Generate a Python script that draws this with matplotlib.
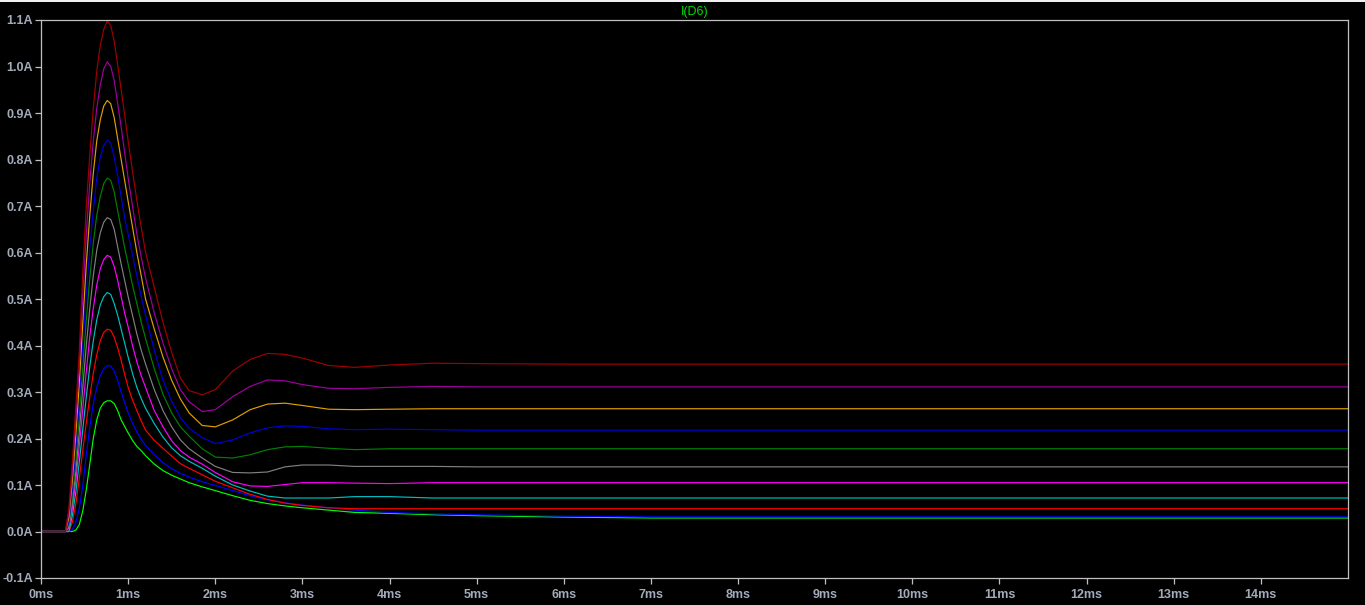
import matplotlib.pyplot as plt
from matplotlib.patches import Rectangle

plt.rcParams['font.family'] = ['Liberation Sans', 'DejaVu Sans']

# time axis in ms (shared by all traces)
time_ms = [0, 0.28, 0.32, 0.36, 0.40, 0.44, 0.48, 0.52, 0.56, 0.60, 0.64, 0.68,
           0.72, 0.76, 0.80, 0.84, 0.88, 0.92, 0.96, 1.00, 1.05, 1.10, 1.15, 1.20,
           1.30, 1.40, 1.50, 1.60, 1.70, 1.85, 2.00, 2.20, 2.40, 2.60, 2.80, 3.00,
           3.30, 3.60, 4.00, 4.50, 5.00, 6.00, 7.00, 15.0]

# I(D6) for each step, in A
i_step1 = [0, 0, 0, 0, 0.003, 0.015, 0.045, 0.090, 0.145, 0.200, 0.240, 0.265,
           0.277, 0.281, 0.281, 0.275, 0.260, 0.240, 0.226, 0.212, 0.196, 0.183, 0.174, 0.163,
           0.145, 0.131, 0.121, 0.113, 0.105, 0.096, 0.088, 0.077, 0.067, 0.060, 0.055, 0.051,
           0.046, 0.041, 0.039, 0.036, 0.034, 0.031, 0.029, 0.029]
i_step2 = [0, 0, 0, 0.004, 0.020, 0.050, 0.100, 0.165, 0.225, 0.275, 0.310, 0.335,
           0.350, 0.357, 0.356, 0.345, 0.325, 0.300, 0.277, 0.255, 0.233, 0.214, 0.198, 0.185,
           0.165, 0.148, 0.135, 0.125, 0.117, 0.107, 0.099, 0.088, 0.077, 0.068, 0.062, 0.057,
           0.051, 0.046, 0.041, 0.038, 0.036, 0.033, 0.0315, 0.0315]
i_step3 = [0, 0, 0, 0.020, 0.060, 0.115, 0.175, 0.235, 0.290, 0.340, 0.380, 0.410,
           0.428, 0.435, 0.433, 0.418, 0.395, 0.368, 0.338, 0.310, 0.283, 0.260, 0.238, 0.218,
           0.196, 0.179, 0.162, 0.146, 0.136, 0.122, 0.108, 0.094, 0.080, 0.069, 0.061, 0.056,
           0.051, 0.049, 0.049, 0.049, 0.049, 0.049, 0.049, 0.049]
i_step4 = [0, 0, 0, 0.035, 0.085, 0.150, 0.220, 0.290, 0.355, 0.410, 0.455, 0.487,
           0.505, 0.514, 0.510, 0.490, 0.465, 0.435, 0.405, 0.375, 0.340, 0.310, 0.286, 0.265,
           0.232, 0.203, 0.180, 0.163, 0.151, 0.136, 0.119, 0.100, 0.087, 0.076, 0.072, 0.072,
           0.072, 0.075, 0.075, 0.072, 0.072, 0.072, 0.072, 0.072]
i_step5 = [0, 0, 0.008, 0.050, 0.110, 0.185, 0.265, 0.345, 0.420, 0.480, 0.530, 0.565,
           0.585, 0.594, 0.590, 0.570, 0.540, 0.505, 0.470, 0.440, 0.400, 0.365, 0.335, 0.310,
           0.260, 0.225, 0.195, 0.174, 0.160, 0.145, 0.127, 0.107, 0.098, 0.097, 0.101, 0.105,
           0.105, 0.104, 0.103, 0.105, 0.105, 0.105, 0.105, 0.105]
i_step6 = [0, 0, 0.010, 0.060, 0.130, 0.215, 0.310, 0.400, 0.480, 0.550, 0.605, 0.642,
           0.665, 0.675, 0.671, 0.650, 0.612, 0.575, 0.540, 0.505, 0.465, 0.425, 0.390, 0.360,
           0.305, 0.260, 0.225, 0.197, 0.178, 0.158, 0.140, 0.127, 0.126, 0.128, 0.139, 0.143,
           0.143, 0.140, 0.140, 0.140, 0.139, 0.139, 0.139, 0.139]
i_step7 = [0, 0, 0.015, 0.075, 0.155, 0.250, 0.355, 0.455, 0.545, 0.620, 0.680, 0.720,
           0.748, 0.760, 0.755, 0.730, 0.690, 0.650, 0.610, 0.575, 0.530, 0.490, 0.450, 0.415,
           0.350, 0.295, 0.255, 0.225, 0.205, 0.178, 0.160, 0.158, 0.165, 0.176, 0.182, 0.183,
           0.179, 0.176, 0.178, 0.178, 0.178, 0.178, 0.178, 0.178]
i_step8 = [0, 0, 0.020, 0.090, 0.180, 0.280, 0.400, 0.510, 0.610, 0.690, 0.760, 0.805,
           0.830, 0.842, 0.835, 0.805, 0.765, 0.720, 0.675, 0.640, 0.595, 0.550, 0.505, 0.465,
           0.390, 0.325, 0.280, 0.245, 0.222, 0.202, 0.189, 0.197, 0.212, 0.223, 0.227, 0.226,
           0.221, 0.219, 0.220, 0.219, 0.218, 0.218, 0.218, 0.218]
i_step9 = [0, 0, 0.030, 0.110, 0.210, 0.320, 0.450, 0.575, 0.680, 0.770, 0.840, 0.885,
           0.915, 0.927, 0.920, 0.890, 0.845, 0.800, 0.755, 0.710, 0.655, 0.600, 0.550, 0.500,
           0.435, 0.375, 0.325, 0.285, 0.255, 0.228, 0.225, 0.240, 0.262, 0.274, 0.276, 0.271,
           0.263, 0.262, 0.263, 0.264, 0.264, 0.264, 0.264, 0.264]
i_step10 = [0, 0, 0.040, 0.130, 0.240, 0.360, 0.510, 0.640, 0.750, 0.840, 0.910, 0.960,
            0.995, 1.010, 1.000, 0.970, 0.920, 0.870, 0.815, 0.760, 0.700, 0.640, 0.590, 0.545,
            0.470, 0.405, 0.350, 0.305, 0.279, 0.258, 0.262, 0.290, 0.312, 0.326, 0.324, 0.316,
            0.308, 0.307, 0.310, 0.312, 0.311, 0.311, 0.311, 0.311]
i_step11 = [0, 0, 0.050, 0.150, 0.270, 0.390, 0.560, 0.700, 0.810, 0.910, 0.990, 1.045,
            1.080, 1.098, 1.088, 1.055, 1.003, 0.950, 0.896, 0.840, 0.775, 0.712, 0.655, 0.600,
            0.525, 0.450, 0.385, 0.330, 0.303, 0.294, 0.305, 0.345, 0.370, 0.383, 0.381, 0.373,
            0.357, 0.353, 0.358, 0.362, 0.361, 0.360, 0.360, 0.360]

steps = [i_step1, i_step2, i_step3, i_step4, i_step5, i_step6,
         i_step7, i_step8, i_step9, i_step10, i_step11]
colors = ['#00ff00', '#0000ff', '#ff0000', '#00bfbf', '#ff00ff', '#808080',
          '#008000', '#0000d8', '#dfa000', '#a000a0', '#a00000']

x_ticks = list(range(15))
x_labels = [f'{t}ms' for t in x_ticks]
y_ticks = [round(-0.1 + 0.1 * k, 1) for k in range(13)]
y_labels = [f'{v:.1f}A' for v in y_ticks]

W, H = 1365, 605
fig = plt.figure(figsize=(W / 100, H / 100), dpi=100, facecolor='black')
ax = fig.add_axes([41 / W, 1 - 578 / H, (1348 - 41) / W, (578 - 20) / H])
ax.set_facecolor('black')

for vals, c in zip(steps, colors):
    ax.plot(time_ms, vals, color=c, lw=0.85)

ax.set_xlim(0, 15)
ax.set_ylim(-0.1, 1.1)
ax.set_xticks(x_ticks)
ax.set_xticklabels(x_labels)
ax.set_yticks(y_ticks)
ax.set_yticklabels(y_labels)

for s in ax.spines.values():
    s.set_color('#c0c0c0')
    s.set_linewidth(0.9)
ax.tick_params(direction='out', length=4, width=0.9, color='#c0c0c0',
               labelcolor='#a3abbb', labelsize=9)
ax.tick_params(axis='x', pad=4)
ax.tick_params(axis='y', pad=2)
for lab in ax.get_xticklabels() + ax.get_yticklabels():
    lab.set_fontweight('bold')

fig.text(694.5 / W, 1 - 12 / H, 'I(D6)', color='#00dd00', ha='center', va='center',
         fontsize=9)

# window frame: light line along the top edge
fig.patches.append(Rectangle((0, 0.997), 1, 0.003, transform=fig.transFigure,
                             facecolor='#f0f0f0', edgecolor='none'))

fig.savefig('out.png', dpi=100, facecolor='black')
